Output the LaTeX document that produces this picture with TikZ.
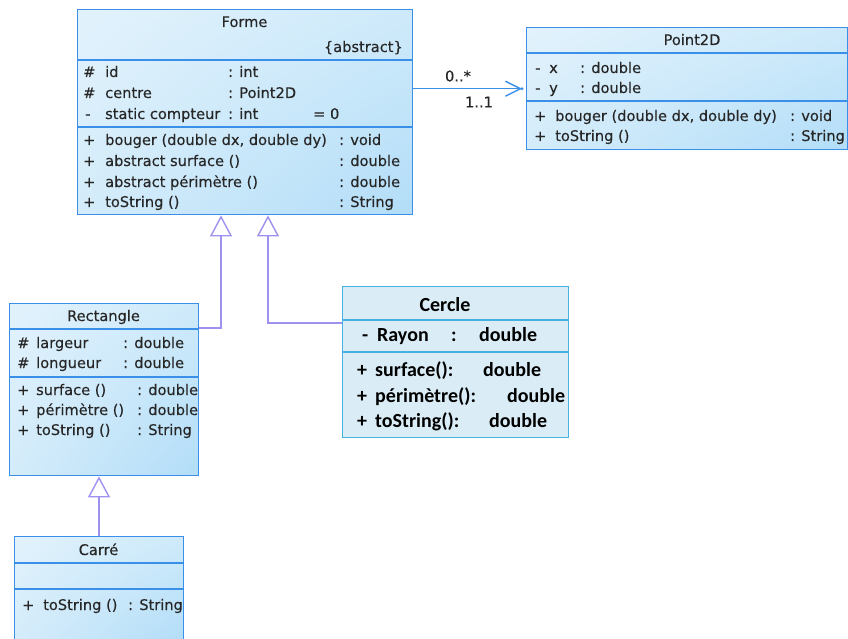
\documentclass[tikz,border=0pt]{standalone}
\usepackage{fontspec}
\setmainfont{DejaVu Sans}
\newfontfamily\umlfont{DejaVu Sans}[FakeBold=0.25]
\newfontfamily\calib{Carlito}
\usetikzlibrary{arrows.meta,shadings}
\definecolor{boxblue}{RGB}{58,143,232}
\definecolor{genline}{RGB}{158,146,240}
\definecolor{txtgray}{RGB}{38,38,38}
\definecolor{cul}{RGB}{226,242,252}
\definecolor{cur}{RGB}{206,234,250}
\definecolor{cll}{RGB}{212,236,250}
\definecolor{clr}{RGB}{178,221,248}
\definecolor{cerborder}{RGB}{70,178,226}
\definecolor{cerfill}{RGB}{218,237,247}
\newcommand\tx[4]{\node[txt] (#1) at (#2,#3) {#4};}
\newcommand\cx[4]{\node[ctxt] (#1) at (#2,#3) {#4};}
\begin{document}
\begin{tikzpicture}[x=1pt,y=-1pt,
  umlbox/.style={draw=boxblue, line width=1.4pt, rectangle, inner sep=0pt, anchor=north west,
    upper left=cul, upper right=cur, lower left=cll, lower right=clr},
  cerbox/.style={draw=cerborder, line width=1.4pt, fill=cerfill, rectangle, inner sep=0pt, anchor=north west},
  sepline/.style={draw=boxblue, line width=1.4pt},
  csepline/.style={draw=cerborder, line width=1.4pt},
  txt/.style={anchor=base west, inner sep=0pt, text=txtgray, font=\umlfont\fontsize{14.6}{17}\selectfont},
  ctxt/.style={anchor=base west, inner sep=0pt, text=black, font=\calib\bfseries\fontsize{20}{24}\selectfont},
  gen/.style={draw=genline, line width=1.4pt, -{Triangle[open, length=21pt, width=22pt, fill=white]}},
  assoc/.style={draw=boxblue, line width=1.4pt, -{Straight Barb[length=15pt, width=15pt]}},
  mult/.style={inner sep=0pt, text=txtgray, font=\umlfont\fontsize{14.6}{17}\selectfont}
]
\useasboundingbox[fill=white] (0,0) rectangle (848,639);

% ---------- Forme ----------
\node[umlbox, minimum width=335pt, minimum height=205pt] (forme) at (77,9) {};
\draw[sepline] (forme.west |- 0,60) -- (forme.east |- 0,60);
\draw[sepline] (forme.west |- 0,127) -- (forme.east |- 0,127);
\node[txt, anchor=base] (fT) at (244.5,27) {Forme};
\node[txt, anchor=base east] (fA) at (403,52) {\{abstract\}};
\tx{f1a}{83}{77}{\#}\tx{f1b}{105}{77}{id}\tx{f1c}{228}{77}{: int}
\tx{f2a}{83}{98}{\#}\tx{f2b}{105}{98}{centre}\tx{f2c}{228}{98}{: Point2D}
\tx{f3a}{85}{119}{-}\tx{f3b}{105}{119}{static compteur}\tx{f3c}{228}{119}{: int}\tx{f3d}{313}{119}{= 0}
\tx{f4a}{83}{145}{+}\tx{f4b}{105}{145}{bouger (double dx, double dy)}\tx{f4c}{339}{145}{: void}
\tx{f5a}{83}{166}{+}\tx{f5b}{105}{166}{abstract surface ()}\tx{f5c}{339}{166}{: double}
\tx{f6a}{83}{187}{+}\tx{f6b}{105}{187}{abstract périmètre ()}\tx{f6c}{339}{187}{: double}
\tx{f7a}{83}{207}{+}\tx{f7b}{105}{207}{toString ()}\tx{f7c}{339}{207}{: String}

% ---------- Point2D ----------
\node[umlbox, minimum width=321pt, minimum height=122pt] (point) at (526,27) {};
\draw[sepline] (point.west |- 0,53) -- (point.east |- 0,53);
\draw[sepline] (point.west |- 0,101) -- (point.east |- 0,101);
\node[txt, anchor=base] (pT) at (692,45) {Point2D};
\tx{p1a}{535}{73}{-}\tx{p1b}{549}{73}{x}\tx{p1c}{580}{73}{: double}
\tx{p2a}{535}{93}{-}\tx{p2b}{549}{93}{y}\tx{p2c}{580}{93}{: double}
\tx{p3a}{534}{121}{+}\tx{p3b}{555}{121}{bouger (double dx, double dy)}\tx{p3c}{790}{121}{: void}
\tx{p4a}{534}{141}{+}\tx{p4b}{555}{141}{toString ()}\tx{p4c}{790}{141}{: String}

% ---------- Rectangle ----------
\node[umlbox, minimum width=189pt, minimum height=172pt] (rect) at (9,303) {};
\draw[sepline] (rect.west |- 0,329) -- (rect.east |- 0,329);
\draw[sepline] (rect.west |- 0,377) -- (rect.east |- 0,377);
\node[txt, anchor=base] (rT) at (103.5,321) {Rectangle};
\tx{r1a}{17}{348}{\#}\tx{r1b}{36}{348}{largeur}\tx{r1c}{123}{348}{: double}
\tx{r2a}{17}{368}{\#}\tx{r2b}{36}{368}{longueur}\tx{r2c}{123}{368}{: double}
\tx{r3a}{17}{395}{+}\tx{r3b}{36}{395}{surface ()}\tx{r3c}{137}{395}{: double}
\tx{r4a}{17}{415}{+}\tx{r4b}{36}{415}{périmètre ()}\tx{r4c}{137}{415}{: double}
\tx{r5a}{17}{435}{+}\tx{r5b}{36}{435}{toString ()}\tx{r5c}{137}{435}{: String}

% ---------- Carré ----------
\node[umlbox, minimum width=169pt, minimum height=106pt] (carre) at (14,536) {};
\draw[sepline] (carre.west |- 0,563) -- (carre.east |- 0,563);
\draw[sepline] (carre.west |- 0,589) -- (carre.east |- 0,589);
\node[txt, anchor=base] (cT) at (98.5,555) {Carré};
\tx{k1a}{22}{610}{+}\tx{k1b}{43}{610}{toString ()}\tx{k1c}{128}{610}{: String}

% ---------- Cercle ----------
\node[cerbox, minimum width=226pt, minimum height=151pt] (cercle) at (342,286) {};
\draw[csepline] (cercle.west |- 0,320) -- (cercle.east |- 0,320);
\draw[csepline] (cercle.west |- 0,352) -- (cercle.east |- 0,352);
\node[ctxt, anchor=base] (eT) at (445,311.5) {Cercle};
\cx{e1a}{362}{341.5}{-}\cx{e1b}{377}{341.5}{Rayon}\cx{e1c}{451}{341.5}{:}\cx{e1d}{479}{341.5}{double}
\cx{e2a}{357}{376.5}{+}\cx{e2b}{375}{376.5}{surface():}\cx{e2c}{483}{376.5}{double}
\cx{e3a}{357}{402.5}{+}\cx{e3b}{375}{402.5}{périmètre():}\cx{e3c}{507}{402.5}{double}
\cx{e4a}{357}{427.5}{+}\cx{e4b}{375}{427.5}{toString():}\cx{e4c}{489}{427.5}{double}

% ---------- connectors ----------
\path (point.west) ++(-4,0) coordinate (aend);
\draw[assoc] (forme.east |- point.west) -- (aend);
\fill[boxblue] (aend) circle (1.6pt);
\node[mult] (m1) at (458,76) {0..*};
\node[mult] (m2) at (479,102) {1..1};

\draw[gen] ([yshift=-25pt]rect.north east) -| (221,0 |- forme.south);
\draw[gen] ([yshift=-37pt]cercle.north west) -| (268,0 |- forme.south);
\draw[gen] (99,0 |- carre.north) -- (99,0 |- rect.south);
\end{tikzpicture}
\end{document}
